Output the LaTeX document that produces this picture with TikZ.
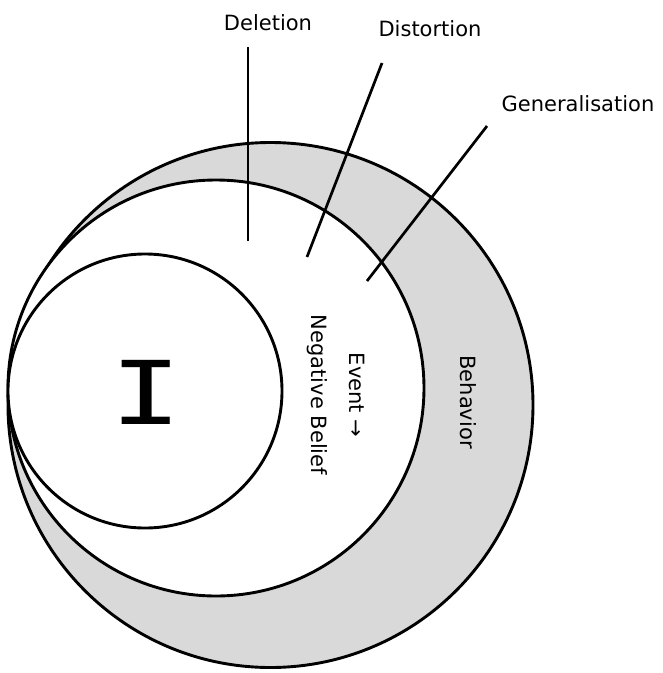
\documentclass[tikz,border=0pt]{standalone}
\usepackage{fontspec}
\setmainfont{DejaVu Sans}
\newfontfamily\selffont{DejaVu Sans Mono}

\begin{document}
\begin{tikzpicture}[
    x=1pt, y=-1pt,
    font=\fontsize{21}{25}\selectfont,
    ring/.style={draw, circle, line width=2.9pt, inner sep=0pt},
    lbl/.style={inner sep=1pt},
    pointer/.style={line width=2.7pt},
]
    \useasboundingbox (0,0) rectangle (663,673);

    %==================== CIRCLES ====================
    \node[ring, fill=black!15, minimum size=525pt] (outer) at (270.5,405) {};
    \node[ring, fill=white, minimum size=416pt] (middle) at (216,388) {};
    \node[ring, fill=white, minimum size=274pt] (inner) at (145,391) {};

    %==================== SELF ====================
    \node[font=\selffont\fontsize{88}{88}\selectfont, xscale=1.35] (self)
        at (146,392) {I};

    %==================== inside texts ====================
    \node[lbl, rotate=-90, align=center, font=\fontsize{21}{38}\selectfont]
        (belief) at (336,395) {Event →\\Negative Belief};
    \node[lbl, rotate=-90] (behavior) at (468,402) {Behavior};

    %==================== FILTERS ====================
    \node[lbl] (deletion) at (268,23) {Deletion};
    \node[lbl] (distortion) at (430,29) {Distortion};
    \node[lbl] (general) at (578,104) {Generalisation};

    \coordinate (delTop) at (248,47);
    \coordinate (delEnd) at (248,241);
    \coordinate (disTop) at (382,63);
    \coordinate (disEnd) at (307,257);
    \coordinate (genTop) at (487,126);
    \coordinate (genEnd) at (367,281);

    \draw[pointer] (delTop) -- (delEnd);
    \draw[pointer] (disTop) -- (disEnd);
    \draw[pointer] (genTop) -- (genEnd);

\end{tikzpicture}
\end{document}
